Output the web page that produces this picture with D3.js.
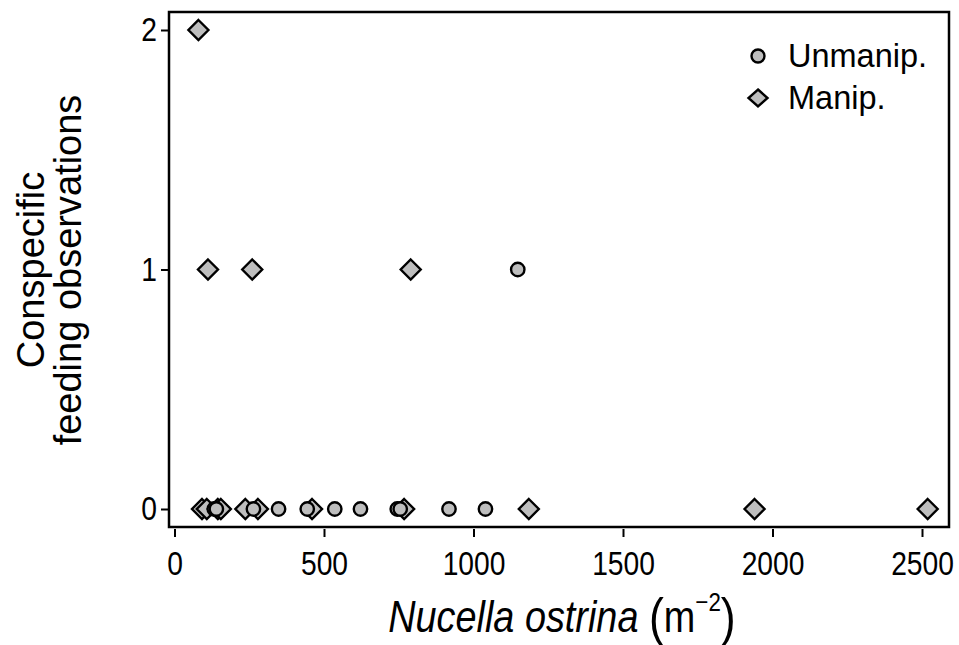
<!DOCTYPE html>
<html>
<head>
<meta charset="utf-8">
<script src="https://cdn.jsdelivr.net/npm/d3@7"></script>
<style>
  body { margin: 0; background: #fff; }
  text { font-family: "Liberation Sans", Arial, Helvetica, sans-serif; fill: #000; }
</style>
</head>
<body>
<div id="container"></div>
<script>
// window size
let cwW = 959;
let cwH = 645;

// data: Nucella density (m^-2) and number of conspecific feeding observations
const unmanipX = [133, 140, 264, 348, 444, 536, 622, 745, 755, 918, 1040, 1148];
const unmanipY = [0, 0, 0, 0, 0, 0, 0, 0, 0, 0, 0, 1];
const manipX = [92, 108, 145, 155, 237, 279, 460, 768, 1185, 1940, 2519, 112, 260, 790, 80];
const manipY = [0, 0, 0, 0, 0, 0, 0, 0, 0, 0, 0, 1, 1, 1, 2];
const xTicks = [0, 500, 1000, 1500, 2000, 2500];
const yTicks = [0, 1, 2];
const legendLabels = ["Unmanip.", "Manip."];

// plot box
const box = {left: 169, right: 949, top: 12, bottom: 527};
const squeeze = 0.83; // text in the original is a bit narrow

const xScale = d3.scaleLinear().domain([0, 2500]).range([174.5, 922]);
const yScale = d3.scaleLinear().domain([0, 2]).range([509, 30]);

let svgArea = d3.select("#container")
  .append("svg")
  .attr("width", cwW)
  .attr("height", cwH);

const ptFill = "#bebebe";

function diamondPath(cx, cy, rx, ry) {
  return "M" + cx + "," + (cy - ry) + "L" + (cx + rx) + "," + cy +
         "L" + cx + "," + (cy + ry) + "L" + (cx - rx) + "," + cy + "Z";
}

// x axis
let xAxis = svgArea.append("g")
  .attr("transform", "translate(0," + (box.bottom + 2) + ")")
  .call(d3.axisBottom(xScale).tickValues(xTicks).tickSize(8).tickSizeOuter(0).tickFormat(d3.format("d")));
xAxis.select(".domain").remove();
xAxis.selectAll("line").attr("stroke", "#000").attr("stroke-width", 2);
xAxis.selectAll("text")
  .attr("font-size", 34)
  .attr("font-family", null)
  .attr("dy", 0)
  .attr("y", 46)
  .attr("transform", "scale(" + squeeze + ",1)");

// y axis
let yAxis = svgArea.append("g")
  .attr("transform", "translate(" + box.left + ",0)")
  .call(d3.axisLeft(yScale).tickValues(yTicks).tickSize(8).tickSizeOuter(0).tickFormat(d3.format("d")));
yAxis.select(".domain").remove();
yAxis.selectAll("line").attr("stroke", "#000").attr("stroke-width", 2);
yAxis.selectAll("text")
  .attr("font-size", 34)
  .attr("font-family", null)
  .attr("x", -12 / squeeze)
  .attr("transform", "scale(" + squeeze + ",1)");

// box
svgArea.append("rect")
  .attr("x", box.left)
  .attr("y", box.top)
  .attr("width", box.right - box.left)
  .attr("height", box.bottom - box.top)
  .attr("fill", "none")
  .attr("stroke", "#000")
  .attr("stroke-width", 2.5);

// points: manipulated (diamonds)
svgArea.append("g")
  .attr("id", "manip")
  .selectAll("path")
  .data(manipX)
  .enter()
  .append("path")
  .attr("d", function(d, i){ return diamondPath(xScale(d), yScale(manipY[i]), 10, 10); })
  .attr("fill", ptFill)
  .attr("stroke", "#000")
  .attr("stroke-width", 2.4);

// points: unmanipulated (circles)
svgArea.append("g")
  .attr("id", "unmanip")
  .selectAll("circle")
  .data(unmanipX)
  .enter()
  .append("circle")
  .attr("cx", function(d){ return xScale(d); })
  .attr("cy", function(d, i){ return yScale(unmanipY[i]); })
  .attr("r", 6.7)
  .attr("fill", ptFill)
  .attr("stroke", "#000")
  .attr("stroke-width", 2.4);

// legend
let legend = svgArea.append("g").attr("id", "legend");
legend.append("circle")
  .attr("cx", 758).attr("cy", 56).attr("r", 6.5)
  .attr("fill", ptFill).attr("stroke", "#000").attr("stroke-width", 2.4);
legend.append("path")
  .attr("d", diamondPath(758, 98, 9.5, 8.5))
  .attr("fill", ptFill).attr("stroke", "#000").attr("stroke-width", 2.4);
legend.selectAll("text")
  .data(legendLabels)
  .enter()
  .append("text")
  .attr("x", 788)
  .attr("y", function(d, i){ return 67 + i * 42; })
  .attr("font-size", 32.5)
  .text(function(d){ return d; });

// x axis title
let xTitle = svgArea.append("text")
  .attr("transform", "translate(562,632) scale(0.86,1)")
  .attr("text-anchor", "middle")
  .attr("font-size", 44);
xTitle.append("tspan").attr("font-style", "italic").text("Nucella ostrina");
xTitle.append("tspan").text(" ");
xTitle.append("tspan").attr("font-size", 52).attr("dy", 3).text("(");
xTitle.append("tspan").attr("dy", -3).text("m");
xTitle.append("tspan").attr("font-size", 26).attr("dy", -21).text("\u22122");
xTitle.append("tspan").attr("font-size", 52).attr("dy", 24).text(")");

// y axis title
let yTitle = svgArea.append("g")
  .attr("transform", "translate(0,270) rotate(-90)");
yTitle.append("text")
  .attr("x", 0).attr("y", 44)
  .attr("text-anchor", "middle")
  .attr("font-size", 38)
  .text("Conspecific");
yTitle.append("text")
  .attr("x", 0).attr("y", 81)
  .attr("text-anchor", "middle")
  .attr("font-size", 38)
  .text("feeding observations");
</script>
</body>
</html>
